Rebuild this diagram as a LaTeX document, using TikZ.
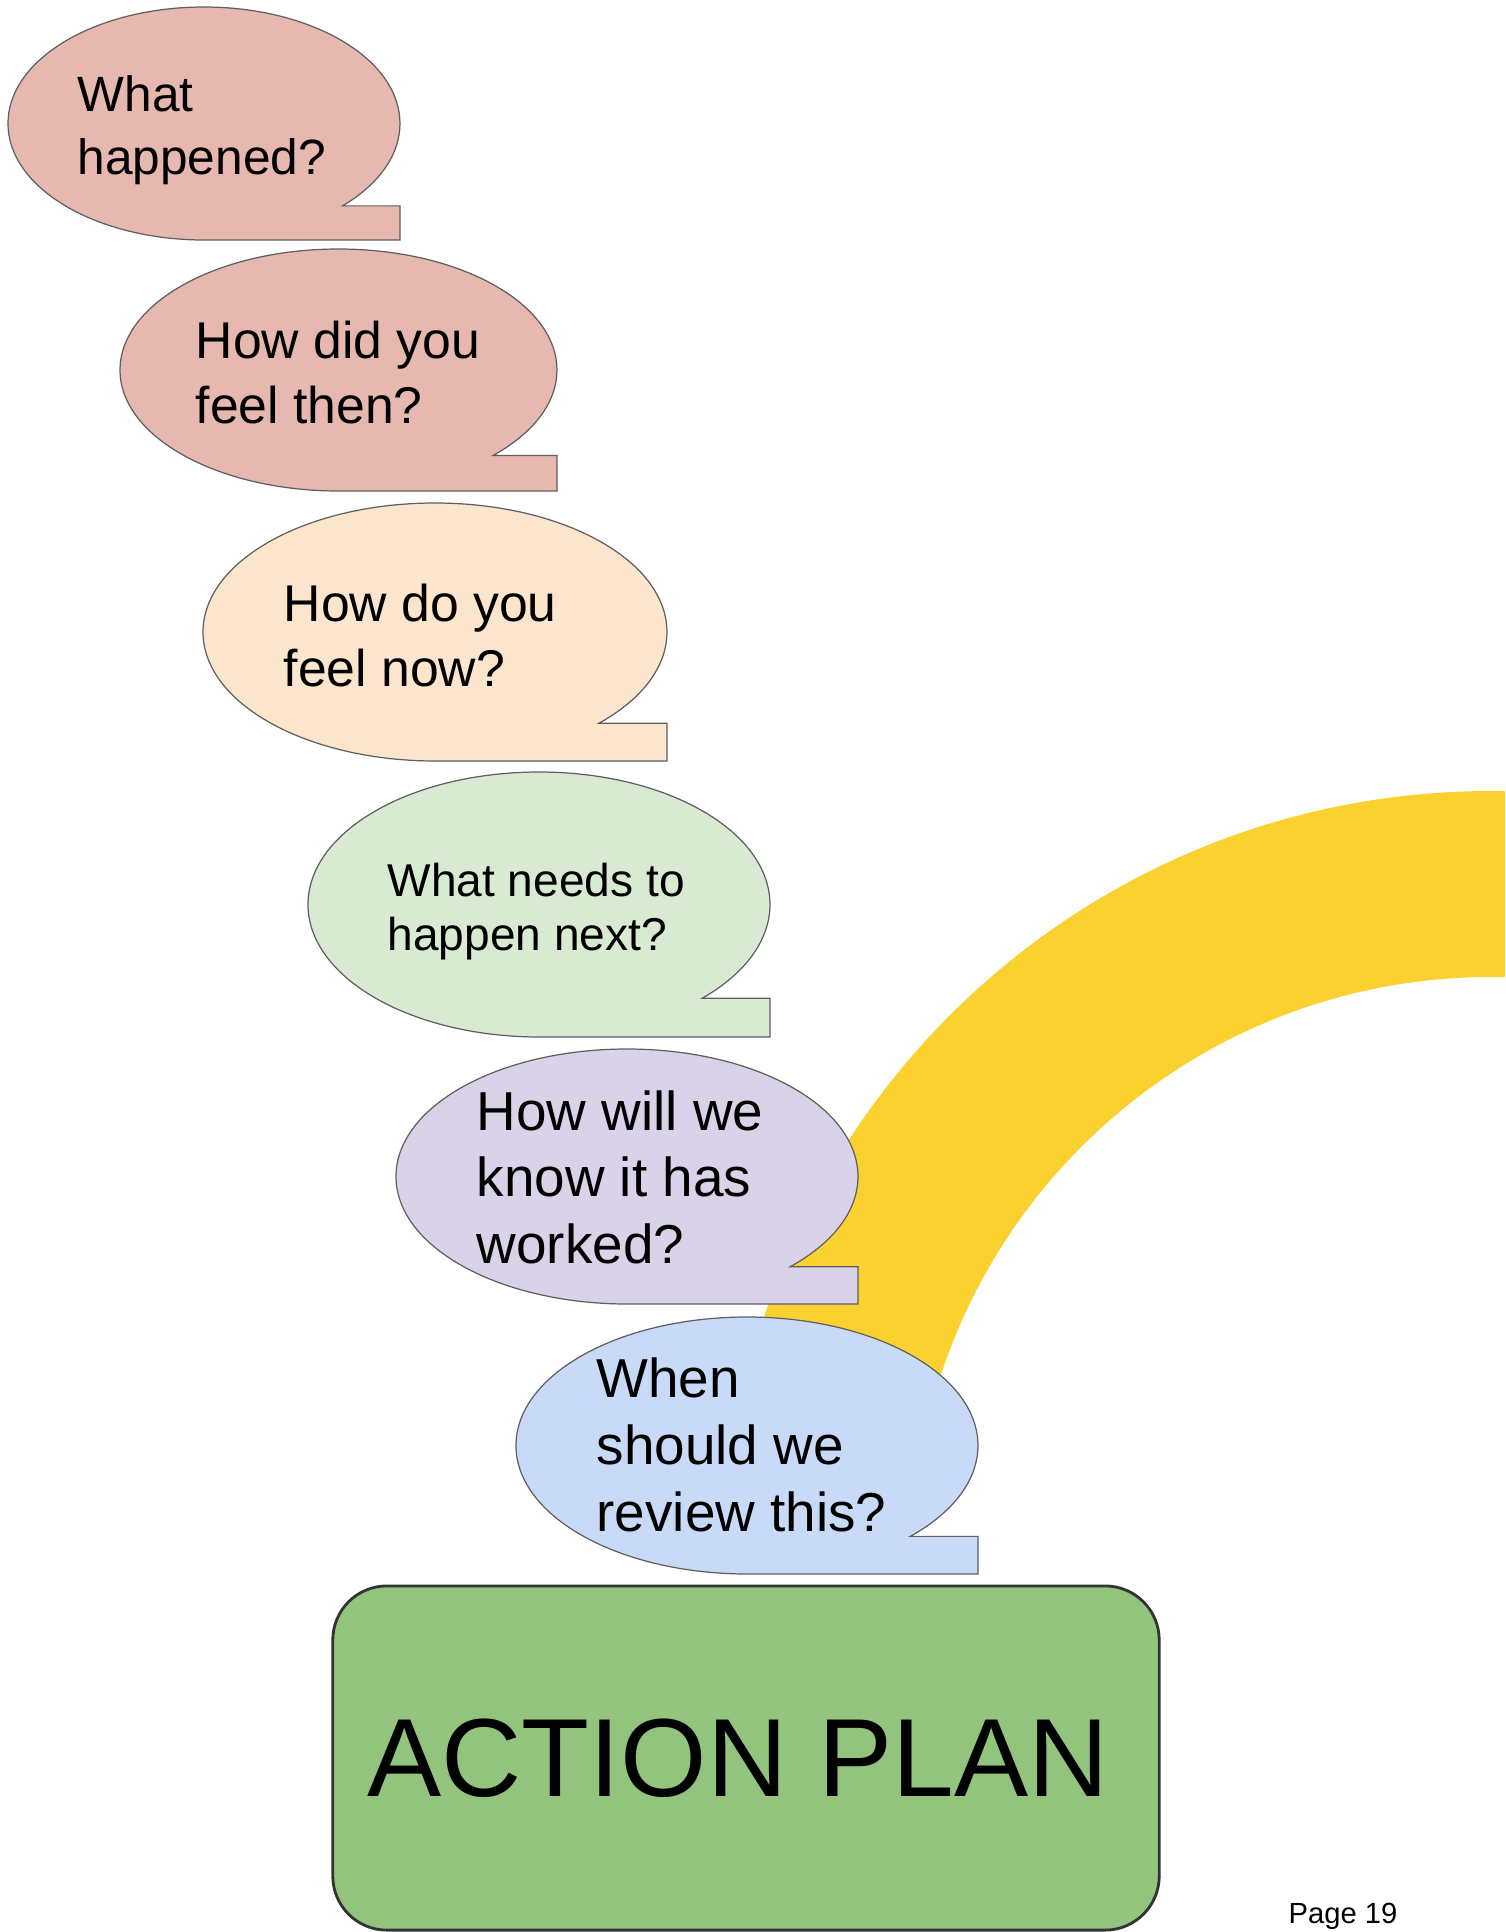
\documentclass[tikz,border=0pt]{standalone}
\usepackage{fontspec}
\setmainfont{Liberation Sans}
\usetikzlibrary{calc}
\definecolor{bubblered}{HTML}{E6B8AF}
\definecolor{bubbleorange}{HTML}{FCE5CD}
\definecolor{bubblegreen}{HTML}{D9EAD3}
\definecolor{bubblepurple}{HTML}{D9D2E9}
\definecolor{bubbleblue}{HTML}{C9DAF8}
\definecolor{plangreen}{HTML}{93C47D}
\definecolor{rainbowyellow}{HTML}{FBD12F}
\definecolor{outline}{HTML}{5F5F5F}
\tikzset{
  bubble/.style={draw=outline, line width=0.35pt, line join=miter},
  qtext/.style={anchor=north west, align=left, inner sep=0pt},
  planbox/.style={draw=black!80, fill=plangreen, line width=0.8pt, rounded corners=15.4pt, minimum width=8.26cm, minimum height=3.44cm, inner sep=0pt, font=\fontsize{31.6}{36}\selectfont},
  pagelabel/.style={anchor=base west, inner sep=0pt, font=\fontsize{8.3}{10}\selectfont}
}
% speech bubble: centre x, centre y (downwards), x radius, y radius, fill
\newcommand{\speechbubble}[5]{%
  \filldraw[bubble, fill=#5] ({#1+0.707*#3},{-#2-0.707*#4})
    arc[start angle=-45, end angle=270, x radius=#3, y radius=#4]
    -- ({#1+#3},{-#2-#4}) -- ({#1+#3},{-#2-0.707*#4}) -- cycle;}

\begin{document}
\begin{tikzpicture}[x=0.01cm, y=0.01cm]
\useasboundingbox (0,0) rectangle (1505,-1932);
% rainbow
\begin{scope}
\clip (0,0) rectangle (1505,-1932);
\fill[rainbowyellow] (2256,-1556) arc[start angle=0, end angle=180, radius=765]
  -- (912,-1556) arc[start angle=180, end angle=0, radius=579] -- cycle;
\end{scope}
% questions
\speechbubble{204}{123.5}{196}{116.5}{bubblered}
\speechbubble{338.5}{370}{218.5}{121}{bubblered}
\speechbubble{435}{632}{232}{129}{bubbleorange}
\speechbubble{539}{904.5}{231}{132.5}{bubblegreen}
\speechbubble{627}{1176.5}{231}{127.5}{bubblepurple}
\speechbubble{747}{1445.5}{231}{128.5}{bubbleblue}
\node[qtext, font=\fontsize{14.1}{17.9}\selectfont] (q1) at (77,-75) {What\\happened?};
\node[qtext, font=\fontsize{14.7}{18.5}\selectfont] (q2) at (195,-320) {How did you\\feel then?};
\node[qtext, font=\fontsize{14.7}{18.5}\selectfont] (q3) at (283,-583) {How do you\\feel now?};
\node[qtext, font=\fontsize{13.1}{15.4}\selectfont] (q4) at (387,-862) {What needs to\\happen next?};
\node[qtext, font=\fontsize{15.6}{18.9}\selectfont] (q5) at (476,-1090) {How will we\\know it has\\worked?};
\node[qtext, font=\fontsize{15.6}{19.1}\selectfont] (q6) at (596,-1357) {When\\should we\\review this?};
% plan
\node[planbox, text depth=0pt] (plan) at (746,-1758) {\hspace*{-0.16cm}ACTION PLAN};
\node[pagelabel] (page) at (1288,-1923) {Page 19};
\end{tikzpicture}
\end{document}
